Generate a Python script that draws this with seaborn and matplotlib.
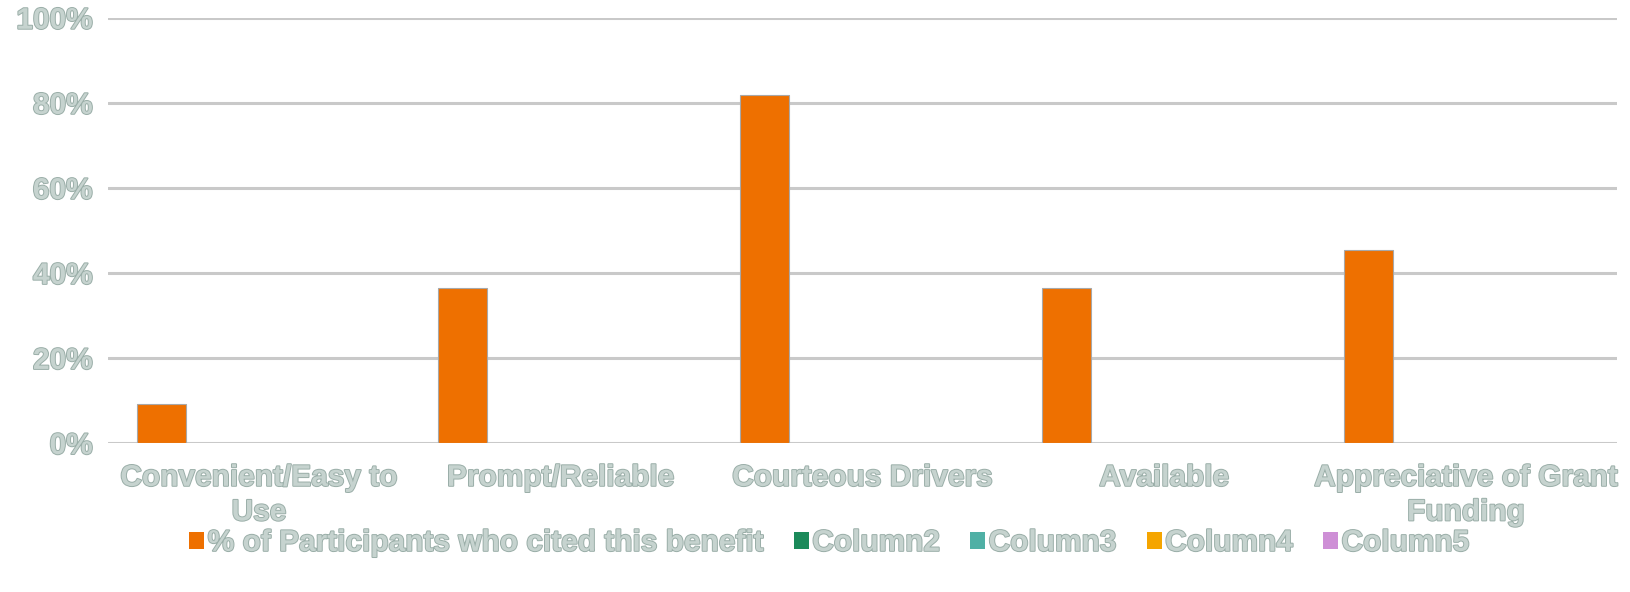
import matplotlib
matplotlib.use("Agg")
import matplotlib.pyplot as plt
import matplotlib.patheffects as pe
import numpy as np
import pandas as pd
import seaborn as sns

categories = [
    "Convenient/Easy to\nUse",
    "Prompt/Reliable",
    "Courteous Drivers",
    "Available",
    "Appreciative of Grant\nFunding",
]
series_names = [
    "% of Participants who cited this benefit",
    "Column2",
    "Column3",
    "Column4",
    "Column5",
]
pct_cited = [9.09, 36.36, 81.82, 36.36, 45.45]
column2 = [0, 0, 0, 0, 0]
column3 = [0, 0, 0, 0, 0]
column4 = [0, 0, 0, 0, 0]
column5 = [0, 0, 0, 0, 0]
y_ticks = [0, 20, 40, 60, 80, 100]
y_tick_labels = ["0%", "20%", "40%", "60%", "80%", "100%"]

colors = ["#EE7000", "#1B8A5A", "#4FB0A5", "#F5A500", "#CE8FD6"]
text_fill = "#c6d3cf"
text_edge = "#9aaea8"

rows = []
for name, vals in zip(series_names, [pct_cited, column2, column3, column4, column5]):
    for cat, v in zip(categories, vals):
        rows.append({"category": cat, "series": name, "value": v})
df = pd.DataFrame(rows)

sns.set_theme(style="white")
plt.rcParams["font.family"] = ["Liberation Sans", "DejaVu Sans"]

fig = plt.figure(figsize=(16.31, 5.92), dpi=100)
ax = fig.add_axes([0.0662, 0.2517, 0.9252, 0.7183])

sns.barplot(
    data=df, x="category", y="value", hue="series",
    order=categories, hue_order=series_names, palette=colors,
    width=0.81, errorbar=None, ax=ax, saturation=1.0,
    edgecolor="none", linewidth=0,
)

# thin grey outline on the visible bars
for patch in ax.patches:
    if patch.get_height() > 0:
        patch.set_edgecolor("#a8a8a8")
        patch.set_linewidth(0.8)

ax.set_xlim(-0.5, len(categories) - 0.5)
ax.set_ylim(0, 100)
ax.set_yticks(y_ticks)
ax.set_yticklabels(y_tick_labels)
ax.set_xlabel("")
ax.set_ylabel("")

ax.yaxis.grid(True, color="#c9c9c9", linewidth=2.2)
ax.set_axisbelow(True)
for s in ax.spines.values():
    s.set_visible(False)
ax.tick_params(axis="both", length=0)
ax.tick_params(axis="y", pad=11)
ax.tick_params(axis="x", pad=15)

stroke = [pe.withStroke(linewidth=1.4, foreground=text_edge)]
for lbl in ax.get_yticklabels() + ax.get_xticklabels():
    lbl.set_fontsize(21.5)
    lbl.set_fontweight("bold")
    lbl.set_color(text_fill)
    lbl.set_path_effects(stroke)
    lbl.set_linespacing(1.3)
for lbl in ax.get_xticklabels():
    lbl.set_horizontalalignment("center")

handles, labels = ax.get_legend_handles_labels()
if ax.legend_:
    ax.legend_.remove()
leg = fig.legend(
    handles, labels, loc="center", bbox_to_anchor=(0.5085, 0.083),
    ncol=5, frameon=False,
    prop={"size": 21.5, "weight": "bold"},
    handlelength=0.5, handleheight=0.5, handletextpad=0.12,
    columnspacing=1.0,
)
for t in leg.get_texts():
    t.set_color(text_fill)
    t.set_path_effects(stroke)

fig.savefig("out.png", dpi=100)
